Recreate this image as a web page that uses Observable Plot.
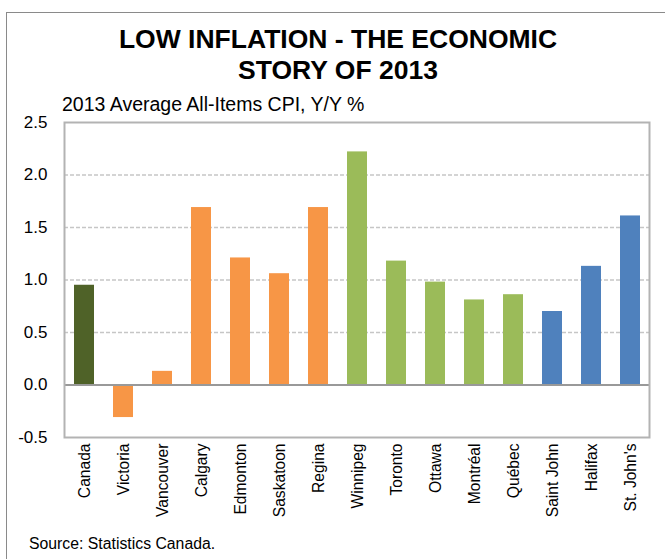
<!DOCTYPE html>
<html>
<head>
<meta charset="utf-8">
<script src="https://cdn.jsdelivr.net/npm/d3@7"></script>
<script src="https://cdn.jsdelivr.net/npm/@observablehq/plot@0.6"></script>
<style>
  html, body { margin: 0; padding: 0; background: #fff; }
  body { width: 665px; height: 559px; position: relative; overflow: hidden; font-family: "Liberation Sans", Arial, sans-serif; color: #000; }
  #border { position: absolute; left: 6px; top: 12px; width: 720px; height: 620px; border: 1.5px solid #8a8a8a; box-sizing: border-box; }
  #title { position: absolute; left: 0; top: 24px; width: 676px; text-align: center; font-weight: bold; font-size: 26.5px; line-height: 31px; }
  #subtitle { position: absolute; left: 62px; top: 93px; font-size: 19.5px; line-height: normal; white-space: nowrap; }
  #chart { position: absolute; left: 0; top: 112px; }
  #chart svg { background: transparent !important; }
  #source { position: absolute; left: 29px; top: 535px; font-size: 15.8px; line-height: normal; white-space: nowrap; }
</style>
</head>
<body>
<div id="border"></div>
<div id="title">LOW INFLATION - THE ECONOMIC<br>STORY OF 2013</div>
<div id="subtitle">2013 Average All-Items CPI, Y/Y %</div>
<div id="chart"></div>
<div id="source">Source: Statistics Canada.</div>
<script>
const cities = ["Canada", "Victoria", "Vancouver", "Calgary", "Edmonton", "Saskatoon", "Regina", "Winnipeg", "Toronto", "Ottawa", "Montréal", "Québec", "Saint John", "Halifax", "St. John's"];
const cpi = [0.95, -0.31, 0.13, 1.69, 1.21, 1.06, 1.69, 2.22, 1.18, 0.98, 0.81, 0.86, 0.70, 1.13, 1.61];
const regions = ["Canada", "West", "West", "West", "West", "West", "West", "Central", "Central", "Central", "Central", "Central", "Atlantic", "Atlantic", "Atlantic"];
const regionNames = ["Canada", "West", "Central", "Atlantic"];
const regionColors = ["#4f6228", "#f79646", "#9bbb59", "#4f81bd"];
const yTicks = [-0.5, 0.0, 0.5, 1.0, 1.5, 2.0, 2.5];
const gridTicks = [0.5, 1.0, 1.5, 2.0];

const data = cities.map((c, i) => ({city: c, value: cpi[i], region: regions[i]}));

const chart = Plot.plot({
  width: 665,
  height: 420,
  marginTop: 10,
  marginBottom: 95,
  marginLeft: 64,
  marginRight: 16,
  style: {fontFamily: "'Liberation Sans', Arial, sans-serif", background: "transparent", color: "#000"},
  x: {domain: cities, paddingInner: 0.49, paddingOuter: 0.245, label: null},
  y: {domain: [-0.5, 2.5], label: null},
  color: {domain: regionNames, range: regionColors},
  marks: [
    Plot.ruleY(gridTicks, {stroke: "#c6c6c6", strokeWidth: 1.5, strokeDasharray: "4,2"}),
    Plot.barY(data, {x: "city", y: "value", fill: "region"}),
    Plot.ruleY([0], {stroke: "#999999", strokeWidth: 2}),
    Plot.frame({stroke: "#b3b3b3", strokeWidth: 2}),
    Plot.axisY({ticks: yTicks, tickSize: 0, tickPadding: 17, fontSize: 17, tickFormat: d => d.toFixed(1).replace("-0.0", "0.0"), label: null}),
    Plot.axisX({tickSize: 0, tickPadding: 6, tickRotate: -90, fontSize: 15.6, label: null})
  ]
});
document.getElementById("chart").appendChild(chart);
</script>
</body>
</html>
